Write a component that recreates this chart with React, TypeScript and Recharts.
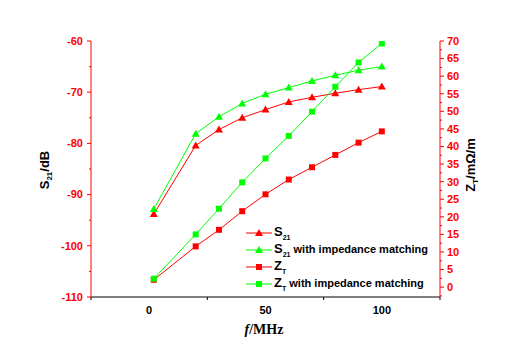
import { Legend, Line, LineChart, XAxis, YAxis } from "recharts";

const freq = [2, 20, 30, 40, 50, 60, 70, 80, 90, 100];
const s21 = [-93.8, -80.4, -77.3, -75.0, -73.4, -71.9, -71.0, -70.2, -69.5, -68.9];
const s21Matched = [-92.8, -78.1, -74.8, -72.2, -70.4, -69.1, -67.8, -66.7, -65.7, -65.0];
const zt = [2.1, 11.6, 16.3, 21.6, 26.4, 30.6, 34.1, 37.6, 41.1, 44.3];
const ztMatched = [2.4, 15.0, 22.3, 29.8, 36.6, 43.0, 49.9, 57.0, 63.9, 69.3];

const leftTicks = [-110, -105, -100, -95, -90, -85, -80, -75, -70, -65, -60];
const rightTicks = [
  -2.5, 0, 2.5, 5, 7.5, 10, 12.5, 15, 17.5, 20, 22.5, 25, 27.5, 30, 32.5, 35, 37.5, 40, 42.5, 45, 47.5, 50, 52.5,
  55, 57.5, 60, 62.5, 65, 67.5, 70,
];
const bottomTicks = [-25, 0, 25, 50, 75, 100, 125];
const topTicks = [0, 25, 50, 75, 100];

const RED = "#ff0000";
const GREEN = "#00ff00";
const FONT = "'Liberation Sans', Arial, sans-serif";

const data = freq.map((f, i) => ({
  f,
  s21: s21[i],
  s21m: s21Matched[i],
  zt: zt[i],
  ztm: ztMatched[i],
}));

const series = [
  { key: "s21", axis: "left", color: RED, shape: "tri", main: "S", sub: "21", rest: "" },
  { key: "s21m", axis: "left", color: GREEN, shape: "tri", main: "S", sub: "21", rest: " with impedance matching" },
  { key: "zt", axis: "right", color: RED, shape: "sq", main: "Z", sub: "T", rest: "" },
  { key: "ztm", axis: "right", color: GREEN, shape: "sq", main: "Z", sub: "T", rest: " with impedance matching" },
];

function Marker({ cx, cy, color, shape }: { cx: number; cy: number; color: string; shape: string }) {
  if (shape === "tri") {
    return <path d={`M${cx},${cy - 4}L${cx + 4},${cy + 3}L${cx - 4},${cy + 3}Z`} fill={color} />;
  }
  return <rect x={cx - 3} y={cy - 3} width={6} height={6} fill={color} />;
}

function LeftTick({ x, y, payload }: any) {
  const major = payload.value % 10 === 0;
  return (
    <g>
      <line x1={x} x2={x - (major ? 4 : 2)} y1={y} y2={y} stroke={RED} />
      {major && (
        <text x={x - 8} y={y} dy="0.35em" textAnchor="end" fill={RED} fontSize={11} fontWeight="bold" fontFamily={FONT}>
          {payload.value}
        </text>
      )}
    </g>
  );
}

function RightTick({ x, y, payload }: any) {
  const major = payload.value % 5 === 0;
  return (
    <g>
      <line x1={x} x2={x + (major ? 4 : 2)} y1={y} y2={y} stroke={RED} />
      {major && (
        <text x={x + 7} y={y} dy="0.35em" textAnchor="start" fill={RED} fontSize={11} fontWeight="bold" fontFamily={FONT}>
          {payload.value}
        </text>
      )}
    </g>
  );
}

function BottomTick({ x, y, payload }: any) {
  const labelled = payload.value % 50 === 0;
  return (
    <g>
      {!labelled && <line x1={x} x2={x} y1={y} y2={y + 3} stroke="#000" />}
      {labelled && (
        <text x={x} y={y + 17} textAnchor="middle" fill="#000" fontSize={11} fontWeight="bold" fontFamily={FONT}>
          {payload.value}
        </text>
      )}
    </g>
  );
}

function TopTick({ x, y }: any) {
  return <line x1={x} x2={x} y1={y} y2={y + 4} stroke="#000" />;
}

function LegendBox() {
  return (
    <svg width={200} height={75}>
      {series.map((s, i) => {
        const cy = 11 + i * 17;
        return (
          <g key={s.key}>
            <line x1={6} x2={32} y1={cy} y2={cy} stroke={s.color} />
            <Marker cx={19} cy={cy} color={s.color} shape={s.shape} />
            <text x={34} y={cy + 3} fontFamily={FONT} fontWeight="bold" fill="#000">
              <tspan fontSize={13}>{s.main}</tspan>
              <tspan fontSize={7} dy={4}>
                {s.sub}
              </tspan>
              <tspan fontSize={11} dy={-4}>
                {s.rest}
              </tspan>
            </text>
          </g>
        );
      })}
    </svg>
  );
}

export default function App() {
  return (
    <div style={{ position: "absolute", left: 0, top: 0, width: 511, height: 359, background: "#fff" }}>
      <LineChart width={511} height={359} data={data} margin={{ top: 41, right: 0, bottom: 0, left: 0 }}>
        <XAxis
          xAxisId="bottom"
          dataKey="f"
          type="number"
          domain={[-25, 125]}
          ticks={bottomTicks}
          interval={0}
          allowDataOverflow
          height={62}
          tickSize={0}
          tickMargin={0}
          tickLine={false}
          axisLine={{ stroke: "#000" }}
          tick={<BottomTick />}
        />
        <XAxis
          xAxisId="top"
          orientation="top"
          dataKey="f"
          type="number"
          domain={[-25, 125]}
          ticks={topTicks}
          interval={0}
          allowDataOverflow
          height={0}
          tickSize={0}
          tickMargin={0}
          tickLine={false}
          axisLine={{ stroke: "#000" }}
          tick={<TopTick />}
        />
        <YAxis
          yAxisId="left"
          type="number"
          domain={[-110, -60]}
          ticks={leftTicks}
          interval={0}
          allowDataOverflow
          width={91}
          tickSize={0}
          tickMargin={0}
          tickLine={false}
          axisLine={{ stroke: RED }}
          tick={<LeftTick />}
        />
        <YAxis
          yAxisId="right"
          orientation="right"
          type="number"
          domain={[-2.8, 70]}
          ticks={rightTicks}
          interval={0}
          allowDataOverflow
          width={71}
          tickSize={0}
          tickMargin={0}
          tickLine={false}
          axisLine={{ stroke: RED }}
          tick={<RightTick />}
        />
        {series.map((s) => (
          <Line
            key={s.key}
            xAxisId="bottom"
            yAxisId={s.axis}
            dataKey={s.key}
            stroke={s.color}
            strokeWidth={1}
            isAnimationActive={false}
            dot={(p: any) => <Marker key={`${s.key}-${p.index}`} cx={p.cx} cy={p.cy} color={s.color} shape={s.shape} />}
            activeDot={false}
          />
        ))}
        <Legend
          layout="vertical"
          align="center"
          verticalAlign="middle"
          content={() => <LegendBox />}
          wrapperStyle={{ position: "absolute", left: 240, top: 222, width: 200, height: 75 }}
        />
      </LineChart>
      <svg width={511} height={359} style={{ position: "absolute", left: 0, top: 0, pointerEvents: "none" }}>
        <text
          x={49}
          y={170}
          transform="rotate(-90 49 170)"
          textAnchor="middle"
          fontFamily={FONT}
          fontWeight="bold"
          fontSize={13}
          fill="#000"
        >
          <tspan>S</tspan>
          <tspan fontSize={8} dy={3}>
            21
          </tspan>
          <tspan dy={-3}>/dB</tspan>
        </text>
        <text
          x={475}
          y={165}
          transform="rotate(-90 475 165)"
          textAnchor="middle"
          fontFamily={FONT}
          fontWeight="bold"
          fontSize={13}
          fill="#000"
        >
          <tspan>Z</tspan>
          <tspan fontSize={8} dy={3}>
            T
          </tspan>
          <tspan dy={-3}>/mΩ/m</tspan>
        </text>
        <text
          x={264}
          y={334}
          textAnchor="middle"
          fontFamily="'Liberation Serif', 'Times New Roman', serif"
          fontWeight="bold"
          fontSize={14}
          fill="#000"
        >
          <tspan fontStyle="italic">f</tspan>
          <tspan>/MHz</tspan>
        </text>
      </svg>
    </div>
  );
}
